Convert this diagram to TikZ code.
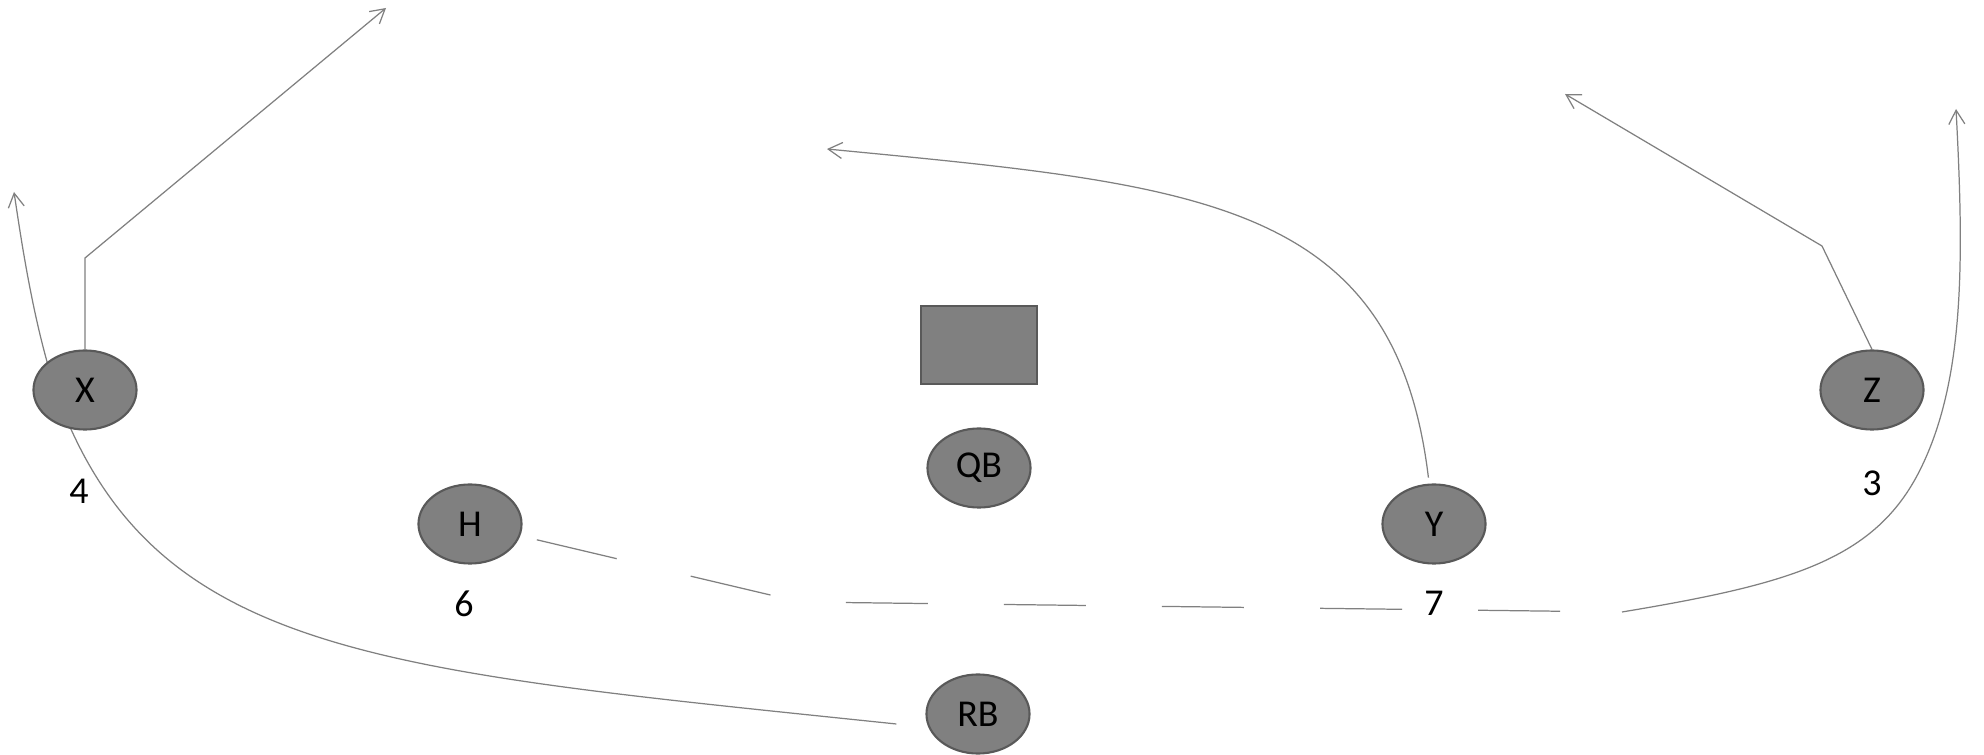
\documentclass[tikz,border=0pt]{standalone}
\usepackage{fontspec}
\setmainfont{Carlito}
\usetikzlibrary{backgrounds}
\usetikzlibrary{arrows.meta, shapes.geometric}

\tikzset{
  player/.style={draw=black!65, fill=black!50, line width=0.6pt, ellipse, minimum width=1.03cm, minimum height=0.79cm, inner sep=0pt, font=\fontsize{10.8}{13}\selectfont},
  num/.style={inner sep=0pt, font=\fontsize{10.8}{13}\selectfont},
  route/.style={draw=black!50, line width=0.35pt},
}

\begin{document}
\begin{tikzpicture}[x=0.01cm, y=-0.01cm, >={Straight Barb[length=1.4mm,width=1.6mm]}]
\node[player] (X) at (85,390) {X};
\node[player] (H) at (470,524) {H};
\node[player] (QB) at (979,468) {QB};
\node[player] (Y) at (1434,524) {Y};
\node[player] (Z) at (1872,390) {Z};
\node[player] (RB) at (978,714) {RB};
\node[draw=black!65, fill=black!50, line width=0.6pt, minimum width=1.16cm, minimum height=0.78cm] (C) at (979,345) {};

\node[num, below of=X, node distance=1.01cm, xshift=-0.06cm] (n4) {4};
\node[num, below of=H, node distance=0.8cm, xshift=-0.06cm] (n6) {6};
\node[num, below of=Y, node distance=0.79cm] (n7) {7};
\node[num, below of=Z, node distance=0.93cm] (n3) {3};

\begin{scope}[on background layer]
\path[fill=white, use as bounding box] (0,0) rectangle (1984,755);
\coordinate (xa) at (85,258);
\coordinate (xb) at (386,8);
\coordinate (xc) at (70,427);
\coordinate (xd) at (14,192);
\coordinate (ya) at (827,149);
\coordinate (za) at (1822,246);
\coordinate (zb) at (1565,94);
\coordinate (ha) at (800,602);
\coordinate (hb) at (1622,612);
\coordinate (hc) at (1920,470);
\coordinate (hd) at (1956,109);

% routes
\draw[route, ->] (X.north) -- (xa) -- (xb);
\draw[route, ->] ([shift={(-29,10)}]RB.west) .. controls (398,672) and (173,657) .. (xc) .. controls (38,357) and (22,245) .. (xd);
\draw[route, ->, shorten <=0.06cm] (Y) .. controls (1395,200) and (1200,185) .. (ya);
\draw[route, ->] (Z.north) -- (za) -- (zb);
\draw[route, dash pattern=on 0.82cm off 0.76cm, shorten <=0.17cm] (H) -- (ha) -- (hb);
\draw[route, ->] (hb) .. controls (1790,584) and (1875,560) .. (hc) .. controls (1965,380) and (1964,259) .. (hd);
\end{scope}
\end{tikzpicture}
\end{document}
